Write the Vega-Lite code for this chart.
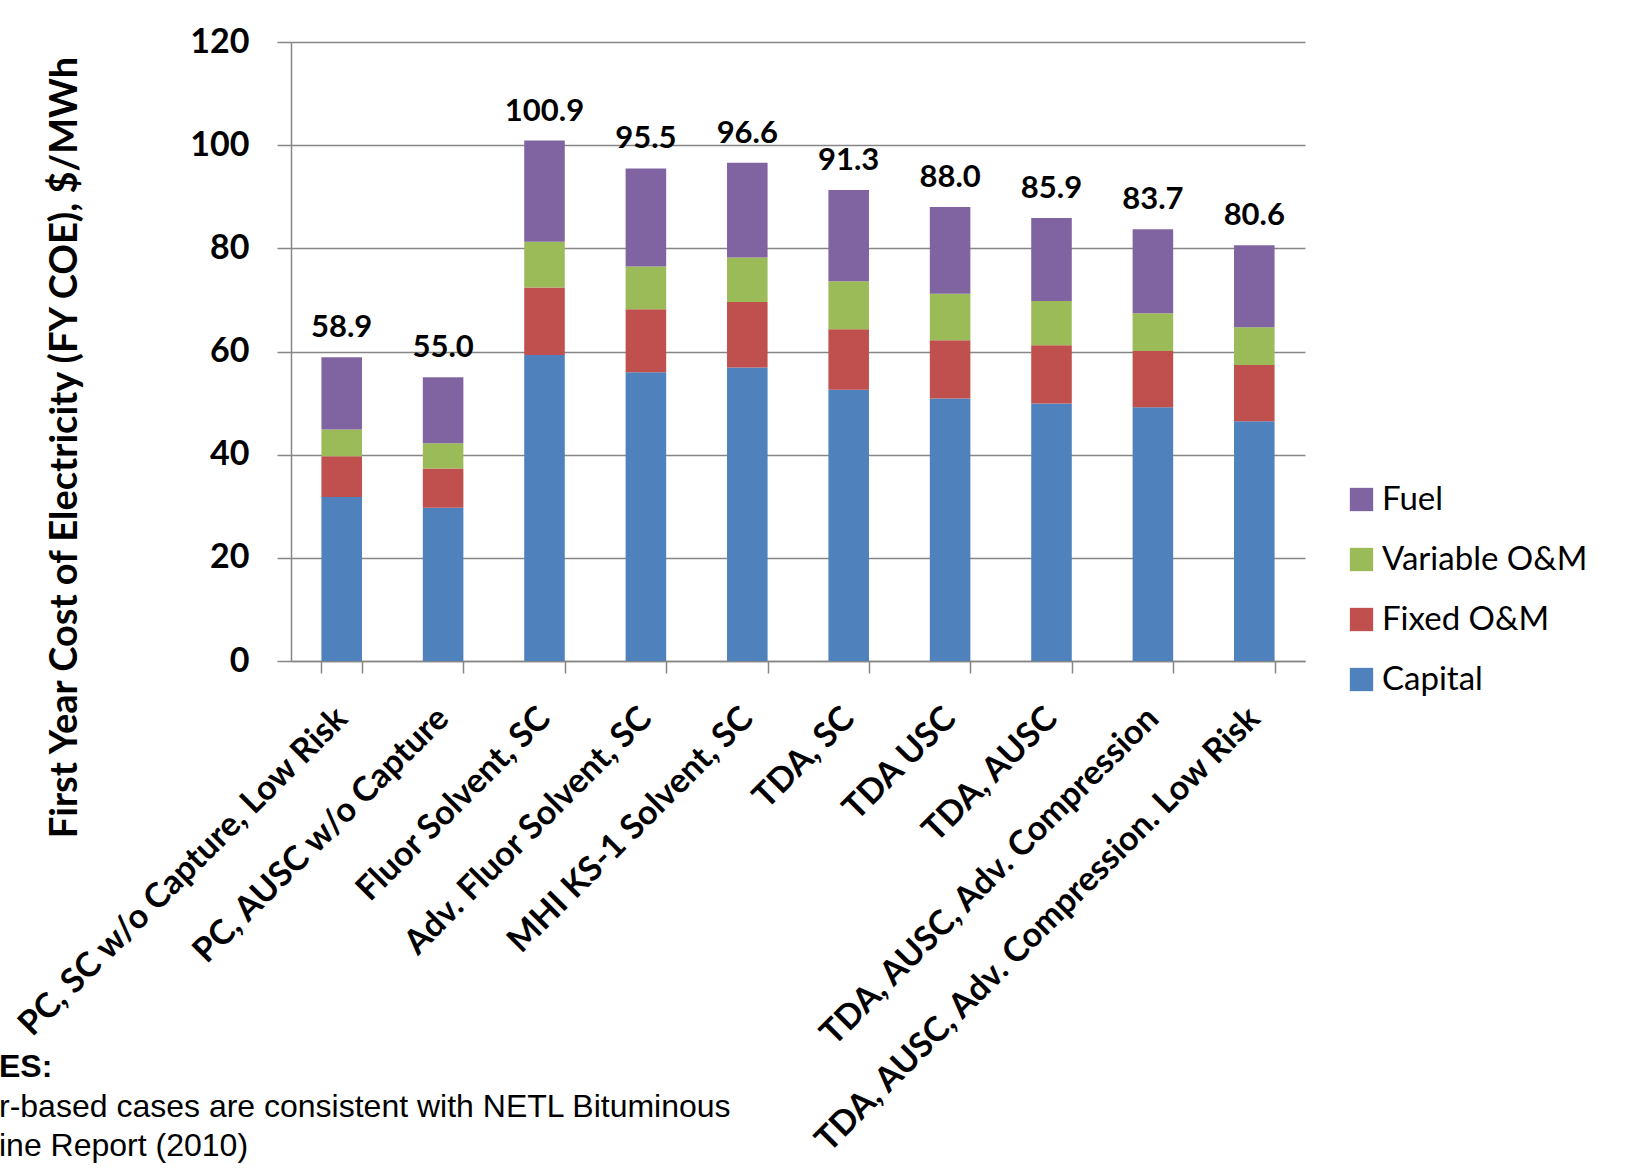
{
  "$schema": "https://vega.github.io/schema/vega-lite/v6.json",
  "width": 1014,
  "height": 619,
  "autosize": {"type": "none"},
  "padding": {"left": 291, "top": 42, "right": 321, "bottom": 510},
  "background": "white",
  "title": {
    "text": "ES:",
    "subtitle": ["r-based cases are consistent with NETL Bituminous", "ine Report (2010)"],
    "orient": "top",
    "anchor": "start",
    "frame": "group",
    "dx": -292,
    "dy": 1142,
    "font": "Liberation Sans Narrow, Liberation Sans",
    "fontSize": 32,
    "fontWeight": "bold",
    "color": "black",
    "subtitleFont": "Liberation Sans Narrow, Liberation Sans",
    "subtitleFontSize": 32,
    "subtitleFontWeight": "normal",
    "subtitleColor": "black",
    "subtitleLineHeight": 39,
    "subtitlePadding": 8
  },
  "data": {
    "values": [
      {"case": "PC, SC w/o Capture, Low Risk", "component": "Capital", "k": 1, "value": 31.8},
      {"case": "PC, SC w/o Capture, Low Risk", "component": "Fixed O&M", "k": 2, "value": 7.9},
      {"case": "PC, SC w/o Capture, Low Risk", "component": "Variable O&M", "k": 3, "value": 5.2},
      {"case": "PC, SC w/o Capture, Low Risk", "component": "Fuel", "k": 4, "value": 14.0},
      {"case": "PC, AUSC w/o Capture", "component": "Capital", "k": 1, "value": 29.7},
      {"case": "PC, AUSC w/o Capture", "component": "Fixed O&M", "k": 2, "value": 7.6},
      {"case": "PC, AUSC w/o Capture", "component": "Variable O&M", "k": 3, "value": 4.9},
      {"case": "PC, AUSC w/o Capture", "component": "Fuel", "k": 4, "value": 12.8},
      {"case": "Fluor Solvent, SC", "component": "Capital", "k": 1, "value": 59.3},
      {"case": "Fluor Solvent, SC", "component": "Fixed O&M", "k": 2, "value": 13.1},
      {"case": "Fluor Solvent, SC", "component": "Variable O&M", "k": 3, "value": 8.9},
      {"case": "Fluor Solvent, SC", "component": "Fuel", "k": 4, "value": 19.6},
      {"case": "Adv. Fluor Solvent, SC", "component": "Capital", "k": 1, "value": 56.0},
      {"case": "Adv. Fluor Solvent, SC", "component": "Fixed O&M", "k": 2, "value": 12.2},
      {"case": "Adv. Fluor Solvent, SC", "component": "Variable O&M", "k": 3, "value": 8.3},
      {"case": "Adv. Fluor Solvent, SC", "component": "Fuel", "k": 4, "value": 19.0},
      {"case": "MHI KS-1 Solvent, SC", "component": "Capital", "k": 1, "value": 56.9},
      {"case": "MHI KS-1 Solvent, SC", "component": "Fixed O&M", "k": 2, "value": 12.7},
      {"case": "MHI KS-1 Solvent, SC", "component": "Variable O&M", "k": 3, "value": 8.6},
      {"case": "MHI KS-1 Solvent, SC", "component": "Fuel", "k": 4, "value": 18.4},
      {"case": "TDA, SC", "component": "Capital", "k": 1, "value": 52.6},
      {"case": "TDA, SC", "component": "Fixed O&M", "k": 2, "value": 11.7},
      {"case": "TDA, SC", "component": "Variable O&M", "k": 3, "value": 9.3},
      {"case": "TDA, SC", "component": "Fuel", "k": 4, "value": 17.7},
      {"case": "TDA USC", "component": "Capital", "k": 1, "value": 50.9},
      {"case": "TDA USC", "component": "Fixed O&M", "k": 2, "value": 11.3},
      {"case": "TDA USC", "component": "Variable O&M", "k": 3, "value": 9.0},
      {"case": "TDA USC", "component": "Fuel", "k": 4, "value": 16.8},
      {"case": "TDA, AUSC", "component": "Capital", "k": 1, "value": 49.9},
      {"case": "TDA, AUSC", "component": "Fixed O&M", "k": 2, "value": 11.3},
      {"case": "TDA, AUSC", "component": "Variable O&M", "k": 3, "value": 8.6},
      {"case": "TDA, AUSC", "component": "Fuel", "k": 4, "value": 16.1},
      {"case": "TDA, AUSC, Adv. Compression", "component": "Capital", "k": 1, "value": 49.2},
      {"case": "TDA, AUSC, Adv. Compression", "component": "Fixed O&M", "k": 2, "value": 10.9},
      {"case": "TDA, AUSC, Adv. Compression", "component": "Variable O&M", "k": 3, "value": 7.3},
      {"case": "TDA, AUSC, Adv. Compression", "component": "Fuel", "k": 4, "value": 16.3},
      {"case": "TDA, AUSC, Adv. Compression. Low Risk", "component": "Capital", "k": 1, "value": 46.5},
      {"case": "TDA, AUSC, Adv. Compression. Low Risk", "component": "Fixed O&M", "k": 2, "value": 10.9},
      {"case": "TDA, AUSC, Adv. Compression. Low Risk", "component": "Variable O&M", "k": 3, "value": 7.3},
      {"case": "TDA, AUSC, Adv. Compression. Low Risk", "component": "Fuel", "k": 4, "value": 15.9}
    ]
  },
  "encoding": {
    "x": {
      "field": "case",
      "type": "nominal",
      "sort": null,
      "scale": {"paddingInner": 0.6, "paddingOuter": 0.3},
      "axis": {
        "title": null,
        "labelAngle": -45,
        "labelAlign": "right",
        "labelBaseline": "middle",
        "labelFont": "Lato",
        "labelFontSize": 34,
        "labelFontWeight": "bold",
        "labelColor": "black",
        "labelPadding": 40,
        "labelLimit": 1000,
        "labelOverlap": false,
        "tickSize": 12,
        "tickBand": "extent",
        "tickColor": "#868686",
        "tickWidth": 1.5,
        "domainColor": "#868686",
        "domainWidth": 1.5,
        "grid": false
      }
    }
  },
  "layer": [
    {
      "mark": {"type": "bar"},
      "encoding": {
        "y": {
          "field": "value",
          "type": "quantitative",
          "stack": "zero",
          "scale": {"domain": [0, 120], "nice": false},
          "axis": {
            "title": "First Year Cost of Electricity (FY COE), $/MWh",
            "titleFont": "Lato",
            "titleFontSize": 38,
            "titleFontWeight": "bold",
            "titleColor": "black",
            "titleAngle": -90,
            "titleX": -226,
            "titleY": 405,
            "titleBaseline": "middle",
            "titleAlign": "center",
            "values": [0, 20, 40, 60, 80, 100, 120],
            "labelFont": "Lato",
            "labelFontSize": 34,
            "labelFontWeight": "bold",
            "labelColor": "black",
            "labelPadding": 28,
            "tickSize": 14,
            "tickColor": "#868686",
            "tickWidth": 1.5,
            "domainColor": "#868686",
            "domainWidth": 1.5,
            "gridColor": "#868686",
            "gridWidth": 1.5
          }
        },
        "color": {
          "field": "component",
          "type": "nominal",
          "scale": {
            "domain": ["Fuel", "Variable O&M", "Fixed O&M", "Capital"],
            "range": ["#8064A2", "#9BBB59", "#C0504D", "#4F81BD"]
          },
          "legend": {
            "orient": "none",
            "legendX": 1054,
            "legendY": 441,
            "title": null,
            "symbolType": "square",
            "symbolSize": 543,
            "symbolStrokeWidth": 0,
            "labelFont": "Lato",
            "labelFontSize": 33,
            "labelColor": "black",
            "labelOffset": 4,
            "labelLimit": 400,
            "rowPadding": 26,
            "padding": 0
          }
        },
        "order": {"field": "k", "type": "quantitative"}
      }
    },
    {
      "mark": {
        "type": "text",
        "baseline": "alphabetic",
        "dy": -20,
        "font": "Lato",
        "fontSize": 31,
        "fontWeight": "bold",
        "color": "black"
      },
      "encoding": {
        "y": {"aggregate": "sum", "field": "value", "type": "quantitative"},
        "text": {"aggregate": "sum", "field": "value", "type": "quantitative", "format": ".1f"}
      }
    }
  ],
  "config": {
    "view": {"stroke": null}
  }
}
